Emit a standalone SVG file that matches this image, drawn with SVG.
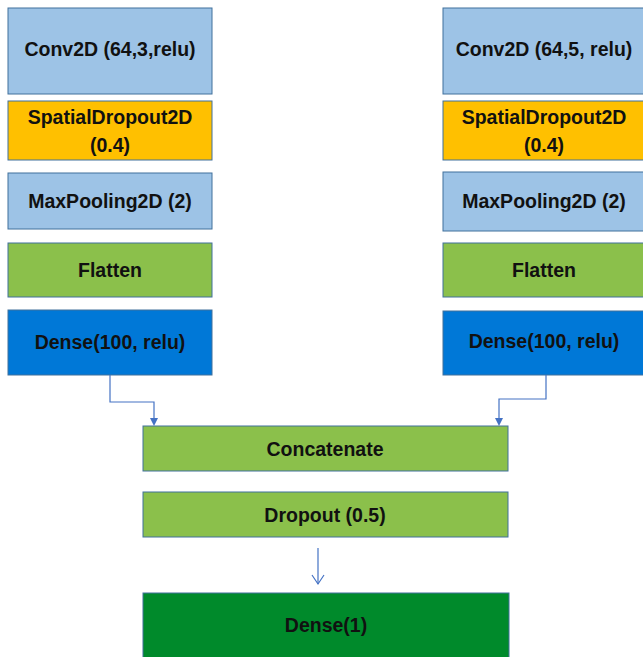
<svg xmlns="http://www.w3.org/2000/svg" width="643" height="657" viewBox="0 0 643 657">
<defs>
<style>
.box{stroke:#41719C;stroke-width:1}
.lb{fill:#9DC3E6}
.or{fill:#FFC000}
.gr{fill:#8BC04B}
.db{fill:#0078D7}
.dg{fill:#008A2B}
text{font-family:"Liberation Sans",Arial,sans-serif;font-weight:bold;font-size:19.5px;fill:#111;text-anchor:middle;dominant-baseline:central}
.conn{fill:none;stroke:#4472C4;stroke-width:1.2}
</style>
</defs>
<rect width="643" height="657" fill="#fff"/>
<g id="conv_l"><rect class="box lb" x="8" y="8" width="204" height="86"/><text x="110" y="49">Conv2D (64,3,relu)</text></g>
<g id="sdrop_l"><rect class="box or" x="8" y="101" width="204" height="59"/><text x="110" y="117">SpatialDropout2D</text><text x="110" y="145">(0.4)</text></g>
<g id="pool_l"><rect class="box lb" x="8" y="173" width="204" height="56"/><text x="110" y="201">MaxPooling2D (2)</text></g>
<g id="flat_l"><rect class="box gr" x="8" y="243" width="204" height="54"/><text x="110" y="270">Flatten</text></g>
<g id="dense_l"><rect class="box db" x="8" y="310" width="204" height="65"/><text x="110" y="342">Dense(100, relu)</text></g>
<g id="conv_r"><rect class="box lb" x="443" y="8" width="204" height="86"/><text x="544" y="49">Conv2D (64,5, relu)</text></g>
<g id="sdrop_r"><rect class="box or" x="443" y="101" width="204" height="59"/><text x="544" y="117">SpatialDropout2D</text><text x="544" y="145">(0.4)</text></g>
<g id="pool_r"><rect class="box lb" x="443" y="172" width="204" height="59"/><text x="544" y="201">MaxPooling2D (2)</text></g>
<g id="flat_r"><rect class="box gr" x="443" y="243" width="204" height="54"/><text x="544" y="270">Flatten</text></g>
<g id="dense_r"><rect class="box db" x="443" y="311" width="204" height="64"/><text x="544" y="341">Dense(100, relu)</text></g>
<g id="concat"><rect class="box gr" x="143" y="426" width="365" height="45"/><text x="325" y="449">Concatenate</text></g>
<g id="dropout"><rect class="box gr" x="143" y="492" width="365" height="45"/><text x="325" y="515">Dropout (0.5)</text></g>
<g id="dense1"><rect class="box dg" x="143" y="593" width="366" height="70"/><text x="326" y="625">Dense(1)</text></g>
<g id="connectors">
<path class="conn" d="M110,375 V402 H154 V419"/>
<path d="M150,418 L158,418 L154,426 z" fill="#4472C4"/>
<path class="conn" d="M546,375 V399 H499 V419"/>
<path d="M495,418 L503,418 L499,426 z" fill="#4472C4"/>
<path class="conn" d="M318,548 V584"/>
<path class="conn" d="M312,575 L318,584 L324,575"/>
</g>
</svg>
